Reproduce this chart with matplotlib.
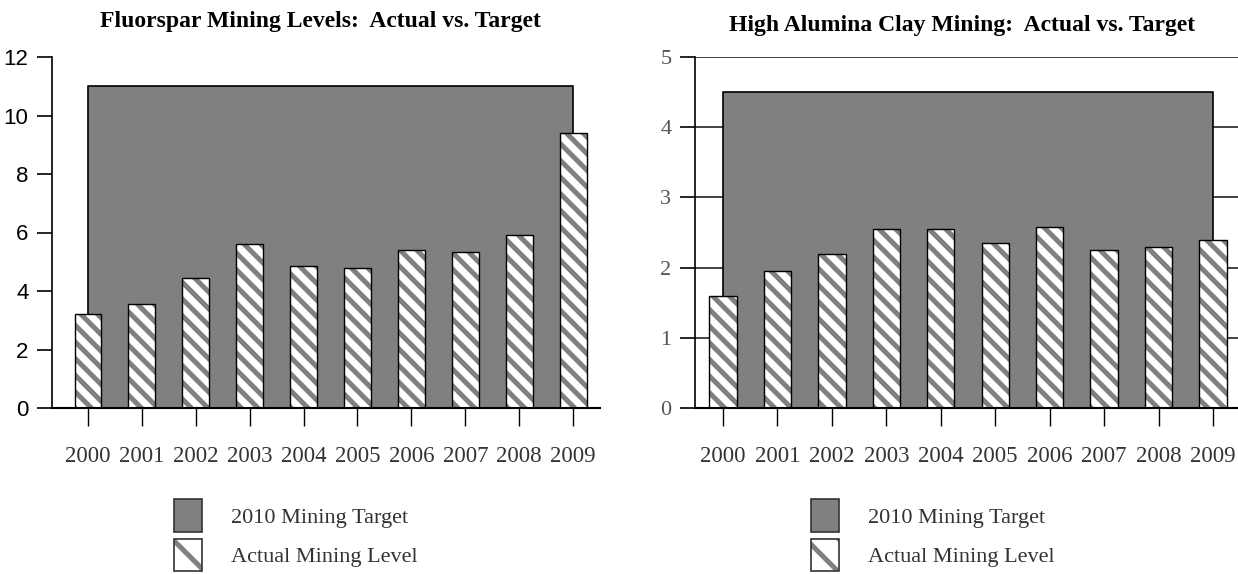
import matplotlib
matplotlib.use("Agg")
import matplotlib.pyplot as plt
from matplotlib.patches import Patch
from matplotlib.legend_handler import HandlerTuple
import numpy as np

years = ["2000", "2001", "2002", "2003", "2004", "2005", "2006", "2007", "2008", "2009"]
fluorspar_actual = [3.2, 3.55, 4.45, 5.6, 4.85, 4.8, 5.4, 5.35, 5.9, 9.4]
fluorspar_target = [11, 11, 11, 11, 11, 11, 11, 11, 11, 11]
clay_actual = [1.6, 1.95, 2.2, 2.55, 2.55, 2.35, 2.58, 2.25, 2.3, 2.4]
clay_target = [4.5, 4.5, 4.5, 4.5, 4.5, 4.5, 4.5, 4.5, 4.5, 4.5]

plt.rcParams["hatch.linewidth"] = 3.6

W, H = 1238, 574
fig = plt.figure(figsize=(W / 100, H / 100), dpi=100)

def px_axes(x0, x1, y0, y1):
    # axes box from pixel coordinates (y measured from top)
    return fig.add_axes([x0 / W, 1 - y1 / H, (x1 - x0) / W, (y1 - y0) / H])

serif = "Liberation Serif"
x = np.arange(len(years))
HATCH = "\\\\"

def draw_panel(ax, actual, target, yticks, ylim, xlim, ylab_font, grid):
    ax.set_xlim(*xlim)
    ax.set_ylim(*ylim)
    if grid:
        for v in yticks[1:]:
            ax.axhline(v, color="#222222", lw=1.2, zorder=0)
    ax.fill_between(x, 0, target, facecolor="#808080", edgecolor="black", lw=1.2, zorder=1)
    # gray stripes first, black outline on top
    ax.bar(x, actual, width=0.5, facecolor="white", edgecolor="#808080", lw=0,
           hatch=HATCH, zorder=2)
    ax.bar(x, actual, width=0.5, facecolor="none", edgecolor="black", lw=1.0, zorder=3)
    for s in ["top", "right", "bottom"]:
        ax.spines[s].set_visible(False)
    ax.spines["left"].set_linewidth(1.2)
    ax.axhline(0, color="black", lw=1.5, zorder=4, clip_on=False)
    ax.set_yticks(yticks)
    ax.set_yticklabels([str(v) for v in yticks], fontsize=16, **ylab_font)
    ax.tick_params(axis="y", length=11, width=1.2, pad=6)
    ax.set_xticks(x)
    ax.set_xticklabels(years, family=serif, fontsize=16.5, color="#333333")
    ax.tick_params(axis="x", length=13, width=1.0, pad=14)

ax1 = px_axes(52, 600, 57, 408)
draw_panel(ax1, fluorspar_actual, fluorspar_target, [0, 2, 4, 6, 8, 10, 12], (0, 12),
           (-0.668, 9.5), {"family": ["Liberation Sans Narrow", "Liberation Sans"]}, False)

ax2 = px_axes(695, 1238, 57, 408)
draw_panel(ax2, clay_actual, clay_target, [0, 1, 2, 3, 4, 5], (0, 5),
           (-0.515, 9.46), {"family": serif, "color": "#555555"}, True)

fig.text(320 / W, 1 - 22 / H, "Fluorspar Mining Levels:  Actual vs. Target", ha="center",
         va="center", family=serif, fontweight="bold", fontsize=17)
fig.text(962 / W, 1 - 25 / H, "High Alumina Clay Mining:  Actual vs. Target", ha="center",
         va="center", family=serif, fontweight="bold", fontsize=17)

handles = [Patch(facecolor="#808080", edgecolor="#333333", lw=1.2),
           (Patch(facecolor="white", edgecolor="#808080", lw=0, hatch="\\"),
            Patch(facecolor="none", edgecolor="#333333", lw=1.2))]
labels = ["2010 Mining Target", "Actual Mining Level"]
for lx in (174, 811):
    fig.legend(handles, labels, loc="upper left", bbox_to_anchor=(lx / W, 1 - 499 / H),
               frameon=False, prop={"family": serif, "size": 16}, labelcolor="#333333",
               handler_map={tuple: HandlerTuple(ndivide=1, pad=0)},
               handlelength=1.25, handleheight=1.9, handletextpad=1.3, labelspacing=0.3,
               borderpad=0, borderaxespad=0)

fig.savefig("out.png", dpi=100)
